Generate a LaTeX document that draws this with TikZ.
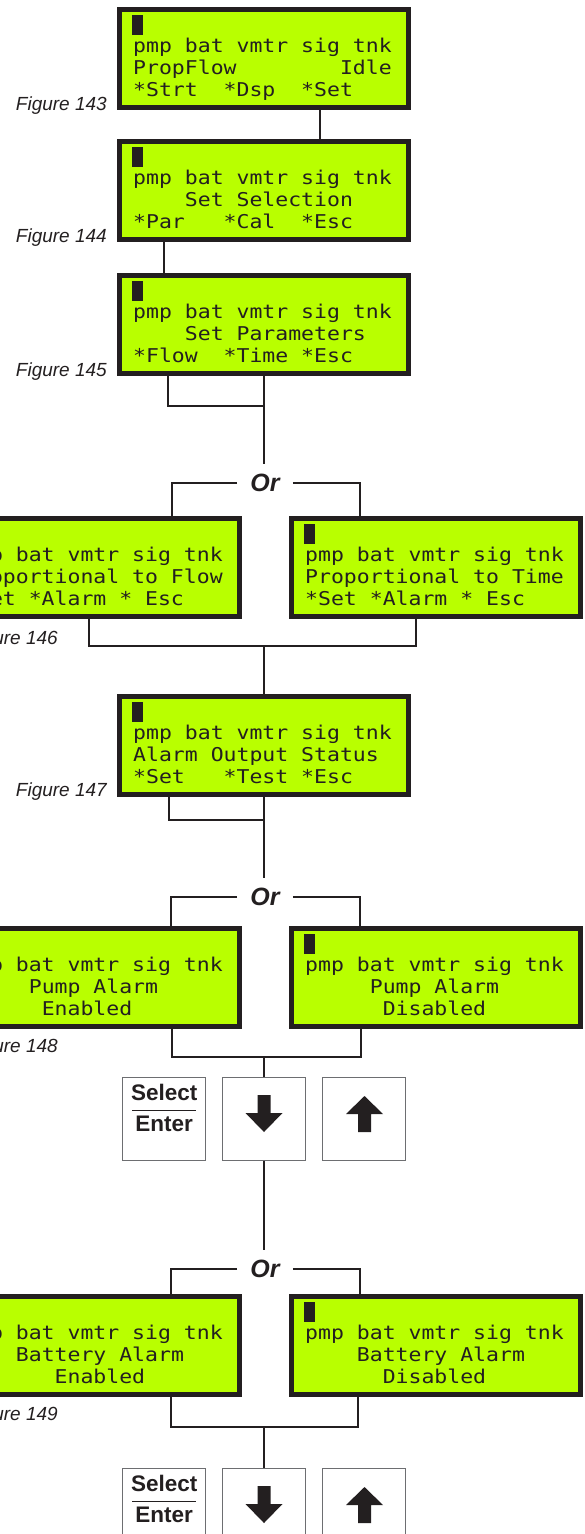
\documentclass[tikz,border=0pt]{standalone}
\usepackage{fontspec}
\setmainfont{Liberation Sans}
\newfontfamily\lcdfont[FakeStretch=1.13]{DejaVu Sans Mono}
\usetikzlibrary{positioning}
\definecolor{lcdgreen}{HTML}{B9FF00}
\definecolor{lcdink}{HTML}{231F20}
\definecolor{keygrey}{HTML}{6D6E71}

\begin{document}
\begin{tikzpicture}[x=1pt, y=-1pt,
  lcd/.style={draw=lcdink, line width=5pt, fill=lcdgreen, minimum width=289pt,
    minimum height=98pt, inner sep=0pt, outer sep=2.5pt, anchor=north west},
  lcdline/.style={anchor=base west, inner sep=0pt, text=lcdink,
    font=\lcdfont\fontsize{19}{22}\selectfont},
  figlabel/.style={anchor=base east, inner sep=0pt, text=lcdink,
    font=\itshape\fontsize{19}{22}\selectfont},
  wire/.style={draw=lcdink, line width=2.5pt},
  ortext/.style={inner xsep=13pt, inner ysep=10pt, text=lcdink,
    font=\bfseries\itshape\fontsize{25}{28}\selectfont},
  keybox/.style={draw=keygrey, line width=0.8pt, minimum size=83pt, inner sep=0pt},
  keylabel/.style={inner sep=0pt, text=lcdink, font=\bfseries\fontsize{22.5}{24}\selectfont},
  node distance=16pt,
]

  % === Page frame ===
  \useasboundingbox (0,0) rectangle (584,1534);
  \clip (0,0) rectangle (584,1534);

  % LCD screen: name, left, top, three text lines
  \def\screen#1#2#3#4#5#6{%
    \node[lcd] (#1) at (#2,#3) {};
    \fill[lcdink] (#2+15,#3+8) rectangle ++(11,20);
    \node[lcdline] at (#2+16,#3+45) {#4};
    \node[lcdline] at (#2+16,#3+67) {#5};
    \node[lcdline] at (#2+16,#3+89) {#6};
  }

  % Key row: suffix, top of keys
  \def\keyrow#1#2{%
    \node[keybox, anchor=north] (down#1) at (264,#2) {};
    \node[keybox, left=of down#1] (select#1) {};
    \node[keybox, right=of down#1] (up#1) {};
    \node[keylabel] at ([yshift=-15pt]select#1.north) {Select};
    \draw[lcdink, line width=1pt] ([xshift=-32pt,yshift=-33pt]select#1.north)
      -- ([xshift=32pt,yshift=-33pt]select#1.north);
    \node[keylabel] at ([yshift=-47pt]select#1.north) {Enter};
    % down arrow
    \fill[lcdink] (257.5,#2+18) -- ++(13,0) -- ++(0,18) -- ++(12,0)
      -- ++(-18.5,19) -- ++(-18.5,-19) -- ++(12,0) -- cycle;
    % up arrow
    \fill[lcdink] (364.5,#2+19) -- ++(18.5,18) -- ++(-12,0) -- ++(0,18)
      -- ++(-13,0) -- ++(0,-18) -- ++(-12,0) -- cycle;
  }

  % === Screens ===
  \screen{s143}{117}{7}{pmp bat vmtr sig tnk}{PropFlow~~~~~~~~Idle}{*Strt~~*Dsp~~*Set}
  \screen{s144}{117}{139}{pmp bat vmtr sig tnk}{~~~~Set Selection}{*Par~~~*Cal~~*Esc}
  \screen{s145}{117}{273}{pmp bat vmtr sig tnk}{~~~~Set Parameters}{*Flow~~*Time *Esc}
  \screen{s146a}{-52}{516}{pmp bat vmtr sig tnk}{Proportional to Flow}{*Set *Alarm * Esc}
  \screen{s146b}{289}{516}{pmp bat vmtr sig tnk}{Proportional to Time}{*Set *Alarm * Esc}
  \screen{s147}{117}{694}{pmp bat vmtr sig tnk}{Alarm Output Status}{*Set~~~*Test *Esc}
  \screen{s148a}{-52}{926}{pmp bat vmtr sig tnk}{~~~~~Pump Alarm}{~~~~~~Enabled}
  \screen{s148b}{289}{926}{pmp bat vmtr sig tnk}{~~~~~Pump Alarm}{~~~~~~Disabled}
  \screen{s149a}{-52}{1294}{pmp bat vmtr sig tnk}{~~~~Battery Alarm}{~~~~~~~Enabled}
  \screen{s149b}{289}{1294}{pmp bat vmtr sig tnk}{~~~~Battery Alarm}{~~~~~~Disabled}

  % Figure labels
  \node[figlabel] at (107,110) {Figure 143};
  \node[figlabel] at (107,242) {Figure 144};
  \node[figlabel] at (107,376) {Figure 145};
  \node[figlabel] at (58,644) {Figure 146};
  \node[figlabel] at (107,796) {Figure 147};
  \node[figlabel] at (58,1052) {Figure 148};
  \node[figlabel] at (58,1420) {Figure 149};

  % Or branches
  \node[ortext] (or1) at (265,483) {Or};
  \node[ortext] (or2) at (265,897) {Or};
  \node[ortext] (or3) at (265,1269) {Or};

  % Keys
  \keyrow{A}{1077}
  \keyrow{B}{1468}

  % === Connectors ===
  \draw[wire] ([xshift=56pt]s143.south) -- ([xshift=56pt]s144.north);
  \draw[wire] ([xshift=-100pt]s144.south) -- ([xshift=-100pt]s145.north);

  \coordinate (j145) at (264,406);
  \draw[wire] ([xshift=-96pt]s145.south) |- (j145);
  \draw[wire] (s145.south) -- (s145.south |- or1.north);
  \draw[wire] (or1.west) -| ([xshift=77pt]s146a.north);
  \draw[wire] (or1.east) -| ([xshift=-76pt]s146b.north);

  \coordinate (j146) at (264,646);
  \draw[wire] ([xshift=-6pt]s146a.south) |- (j146) -| ([xshift=-20pt]s146b.south);
  \draw[wire] (j146) -- (s147.north);

  \coordinate (j147) at (264,820);
  \draw[wire] ([xshift=-95pt]s147.south) |- (j147);
  \draw[wire] (s147.south) -- (s147.south |- or2.north);
  \draw[wire] (or2.west) -| ([xshift=76pt]s148a.north);
  \draw[wire] (or2.east) -| ([xshift=-76pt]s148b.north);

  \coordinate (j148) at (264,1057);
  \draw[wire] ([xshift=77pt]s148a.south) |- (j148) -| ([xshift=-75pt]s148b.south);
  \draw[wire] (j148) -- (downA.north);

  \draw[wire] (downA.south) -- (downA.south |- or3.north);
  \draw[wire] (or3.west) -| ([xshift=76pt]s149a.north);
  \draw[wire] (or3.east) -| ([xshift=-76pt]s149b.north);

  \coordinate (j149) at (264,1427);
  \draw[wire] ([xshift=76pt]s149a.south) |- (j149) -| ([xshift=-78pt]s149b.south);
  \draw[wire] (j149) -- (downB.north);

\end{tikzpicture}
\end{document}
